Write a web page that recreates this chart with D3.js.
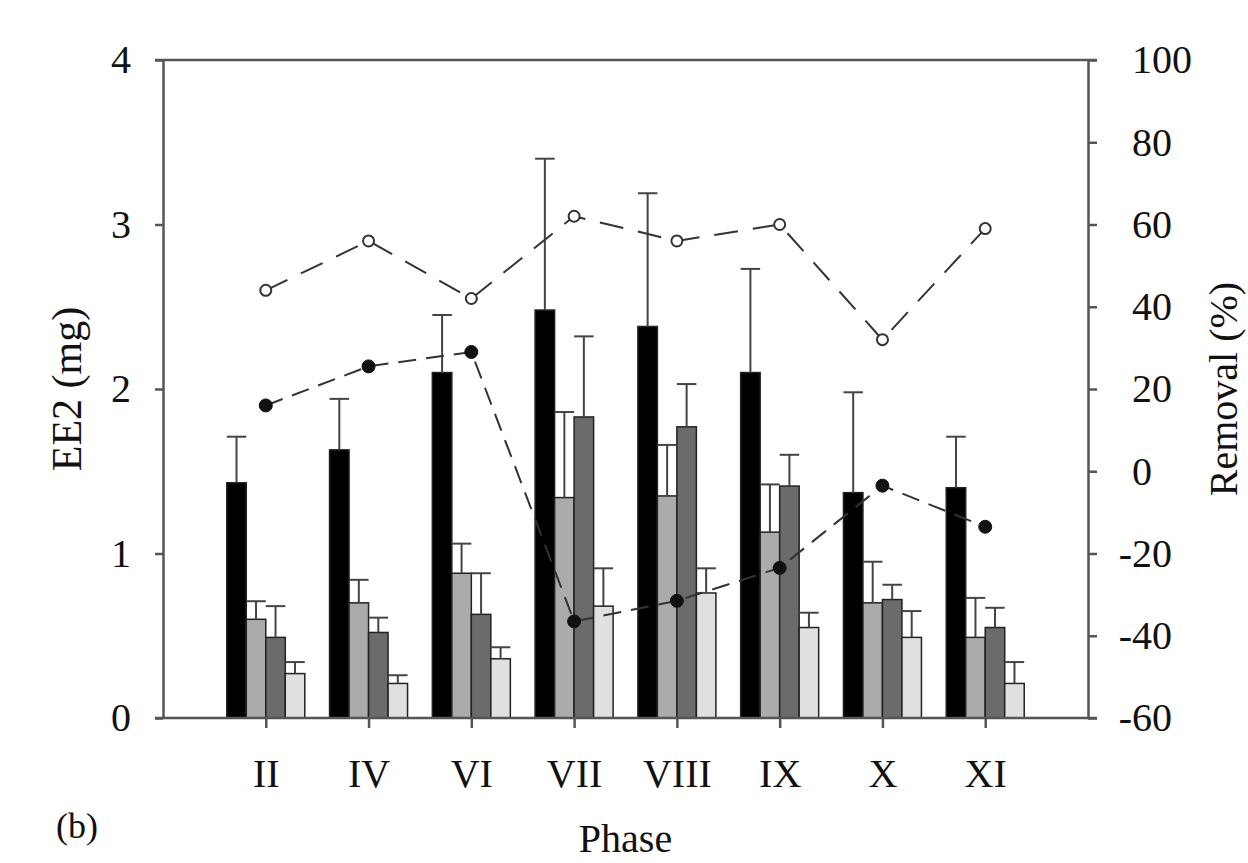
<!DOCTYPE html>
<html>
<head>
<meta charset="utf-8">
<script src="https://d3js.org/d3.v7.min.js"></script>
<style>
  html, body { margin: 0; padding: 0; background: #ffffff; }
  svg { display: block; }
  text { font-family: "Liberation Serif", "Times New Roman", serif; fill: #111; }
</style>
</head>
<body>
<script>
// ---- data ----
const categories = ["II", "IV", "VI", "VII", "VIII", "IX", "X", "XI"];
const seriesKeys = ["A", "B", "C", "D"];
// EE2 (mg) bar values
const valuesA = [1.43, 1.63, 2.10, 2.48, 2.38, 2.10, 1.37, 1.40];
const valuesB = [0.60, 0.70, 0.88, 1.34, 1.35, 1.13, 0.70, 0.49];
const valuesC = [0.49, 0.52, 0.63, 1.83, 1.77, 1.41, 0.72, 0.55];
const valuesD = [0.27, 0.21, 0.36, 0.68, 0.76, 0.55, 0.49, 0.21];
// upper error (SD)
const errorsA = [0.28, 0.31, 0.35, 0.92, 0.81, 0.63, 0.61, 0.31];
const errorsB = [0.11, 0.14, 0.18, 0.52, 0.31, 0.29, 0.25, 0.24];
const errorsC = [0.19, 0.09, 0.25, 0.49, 0.26, 0.19, 0.09, 0.12];
const errorsD = [0.07, 0.05, 0.07, 0.23, 0.15, 0.09, 0.16, 0.13];
// Removal (%)
const removalOpen = [44, 56, 42, 62, 56, 60, 32, 59];
const removalFilled = [16, 25.5, 29, -36.5, -31.5, -23.5, -3.5, -13.5];
// tick labels
const leftTicks = [0, 1, 2, 3, 4];
const rightTicks = [-60, -40, -20, 0, 20, 40, 60, 80, 100];

const seriesValues = [valuesA, valuesB, valuesC, valuesD];
const seriesErrors = [errorsA, errorsB, errorsC, errorsD];
const seriesFill = ["#000000", "#ababab", "#6b6b6b", "#e0e0e0"];

const W = 1248, H = 863;
const plotL = 163, plotR = 1088, plotT = 60, plotB = 718;
const axisColor = "#555";

const svg = d3.select("body").append("svg").attr("width", W).attr("height", H);
svg.append("rect").attr("width", W).attr("height", H).attr("fill", "#fff");

const y = d3.scaleLinear().domain([0, 4]).range([plotB, plotT]);
const y2 = d3.scaleLinear().domain([-60, 100]).range([plotB, plotT]);
const x = d3.scalePoint().domain(categories).range([plotL, plotR]).padding(1);
const xs = d3.scaleBand().domain(seriesKeys).range([-39, 39]).padding(0);

// ---- bars ----
const barData = [];
categories.forEach((c, i) => {
  seriesKeys.forEach((k, j) => {
    barData.push({ cat: c, key: k, v: seriesValues[j][i], e: seriesErrors[j][i], fill: seriesFill[j] });
  });
});

const gBars = svg.append("g");
gBars.selectAll("rect").data(barData).enter().append("rect")
  .attr("x", d => x(d.cat) + xs(d.key))
  .attr("y", d => y(d.v))
  .attr("width", xs.bandwidth())
  .attr("height", d => y(0) - y(d.v))
  .attr("fill", d => d.fill)
  .attr("stroke", "#222")
  .attr("stroke-width", 1.5);

// ---- error bars (upper only) ----
const gErr = svg.append("g").attr("stroke", "#444").attr("stroke-width", 2).attr("fill", "none");
barData.forEach(d => {
  const cx = x(d.cat) + xs(d.key) + xs.bandwidth() / 2;
  const half = xs.bandwidth() / 2;
  gErr.append("line").attr("x1", cx).attr("x2", cx).attr("y1", y(d.v)).attr("y2", y(d.v + d.e));
  gErr.append("line").attr("x1", cx - half).attr("x2", cx + half).attr("y1", y(d.v + d.e)).attr("y2", y(d.v + d.e));
});

// ---- axes ----
const fontSize = 40;
const fmt = d => String(d); // plain hyphen-minus as in the reference
const gLeft = svg.append("g").attr("transform", `translate(${plotL},0)`)
  .call(d3.axisLeft(y).tickValues(leftTicks).tickFormat(fmt).tickSize(8).tickSizeOuter(0).tickPadding(24));
const gRight = svg.append("g").attr("transform", `translate(${plotR},0)`)
  .call(d3.axisRight(y2).tickValues(rightTicks).tickFormat(fmt).tickSize(9).tickSizeOuter(0).tickPadding(35));
const gBottom = svg.append("g").attr("transform", `translate(0,${plotB})`)
  .call(d3.axisBottom(x).tickSize(10).tickSizeOuter(0));
gBottom.select(".domain").remove();

[gLeft, gRight, gBottom].forEach(g => {
  g.selectAll(".domain").attr("stroke", axisColor).attr("stroke-width", 2.5);
  g.selectAll(".tick line").attr("stroke", axisColor).attr("stroke-width", 2.5);
  g.selectAll("text").attr("font-size", fontSize).attr("fill", "#111")
    .attr("font-family", "'Liberation Serif', 'Times New Roman', serif");
});
gRight.selectAll(".tick text").attr("dx", d => d < 0 ? "-0.333em" : null);
gBottom.selectAll(".tick text").attr("y", 69).attr("dy", 0);

// top and bottom frame lines
svg.append("line").attr("x1", plotL - 8).attr("x2", plotR + 9).attr("y1", plotT).attr("y2", plotT)
  .attr("stroke", axisColor).attr("stroke-width", 2.5);
svg.append("line").attr("x1", plotL - 8).attr("x2", plotR + 9).attr("y1", plotB).attr("y2", plotB)
  .attr("stroke", axisColor).attr("stroke-width", 2.5);

// ---- removal lines ----
const line = d3.line().x(d => x(d.cat)).y(d => y2(d.v));
const openPts = categories.map((c, i) => ({ cat: c, v: removalOpen[i] }));
const filledPts = categories.map((c, i) => ({ cat: c, v: removalFilled[i] }));

svg.append("path").datum(openPts).attr("d", line)
  .attr("fill", "none").attr("stroke", "#333").attr("stroke-width", 2).attr("stroke-dasharray", "24,15");
svg.append("path").datum(filledPts).attr("d", line)
  .attr("fill", "none").attr("stroke", "#333").attr("stroke-width", 2).attr("stroke-dasharray", "18,10");

svg.append("g").selectAll("circle").data(openPts).enter().append("circle")
  .attr("cx", d => x(d.cat)).attr("cy", d => y2(d.v)).attr("r", 5.5)
  .attr("fill", "#fff").attr("stroke", "#333").attr("stroke-width", 2);
svg.append("g").selectAll("circle").data(filledPts).enter().append("circle")
  .attr("cx", d => x(d.cat)).attr("cy", d => y2(d.v)).attr("r", 6.5)
  .attr("fill", "#111").attr("stroke", "#111").attr("stroke-width", 1);

// ---- labels ----
svg.append("text").attr("transform", `translate(81,${(plotT + plotB) / 2}) rotate(-90)`)
  .attr("text-anchor", "middle").attr("font-size", 42).text("EE2 (mg)");
svg.append("text").attr("transform", `translate(1237,${(plotT + plotB) / 2}) rotate(-90)`)
  .attr("text-anchor", "middle").attr("font-size", 40).text("Removal (%)");
svg.append("text").attr("x", (plotL + plotR) / 2).attr("y", 852)
  .attr("text-anchor", "middle").attr("font-size", 40).text("Phase");
svg.append("text").attr("x", 56).attr("y", 838).attr("font-size", 36).text("(b)");
</script>
</body>
</html>
